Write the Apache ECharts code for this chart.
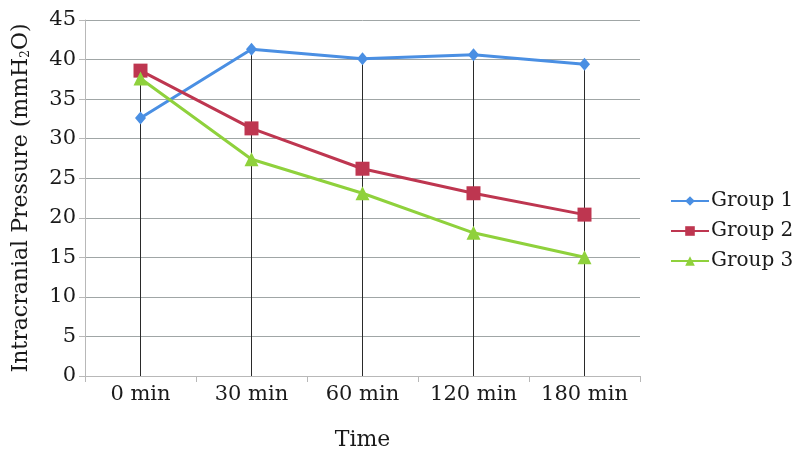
<!DOCTYPE html>
<html><head><meta charset="utf-8">
<script src="https://cdn.jsdelivr.net/npm/echarts@6/dist/echarts.min.js"></script>
<style>html,body{margin:0;padding:0;background:#fff}#c{width:799px;height:468px}</style>
</head><body><div id="c"></div>
<script>
const categories = ['0 min', '30 min', '60 min', '120 min', '180 min'];
const group1 = [32.6, 41.3, 40.1, 40.6, 39.4];
const group2 = [38.6, 31.3, 26.2, 23.1, 20.4];
const group3 = [37.6, 27.4, 23.1, 18.1, 15.0];
const seriesNames = ['Group 1', 'Group 2', 'Group 3'];
const yMin = 0, yMax = 45, yStep = 5;

const FONT = '"DejaVu Serif", "Liberation Serif", serif';
const TXT = '#1a1a1a';
const dropTop = categories.map((c, i) => Math.max(group1[i], group2[i], group3[i]));

const chart = echarts.init(document.getElementById('c'));
chart.setOption({
  animation: false,
  backgroundColor: '#fff',
  grid: { left: 85, right: 159, top: 20, bottom: 92 },
  legend: {
    orient: 'vertical', left: 665, top: 186, itemGap: 10, itemWidth: 38, itemHeight: 12,
    textStyle: { fontFamily: FONT, fontSize: 20, color: TXT, padding: [0, 0, 0, -3] },
    data: seriesNames
  },
  xAxis: {
    type: 'category', data: categories, boundaryGap: true,
    name: 'Time', nameLocation: 'middle', nameGap: 53,
    nameTextStyle: { fontFamily: FONT, fontSize: 22, color: TXT },
    axisLine: { lineStyle: { color: '#b8b8b8', width: 1 } },
    axisTick: { show: true, length: 6, interval: 0, lineStyle: { color: '#b8b8b8' } },
    axisLabel: { fontFamily: FONT, fontSize: 21, color: TXT, margin: 8, interval: 0 },
    splitLine: { show: false }
  },
  yAxis: {
    type: 'value', min: yMin, max: yMax, interval: yStep,
    name: 'Intracranial Pressure (mmH{sub|2}O)', nameLocation: 'middle', nameGap: 53,
    nameTextStyle: { fontFamily: FONT, fontSize: 22, color: TXT,
      rich: { sub: { fontFamily: FONT, fontSize: 12, color: TXT, verticalAlign: 'bottom', lineHeight: 16 } } },
    axisLine: { show: true, lineStyle: { color: '#b8b8b8', width: 1 } },
    axisTick: { show: true, length: 6, lineStyle: { color: '#b8b8b8' } },
    axisLabel: { fontFamily: FONT, fontSize: 21, color: TXT, margin: 9 },
    splitLine: { show: true, lineStyle: { color: '#a0a6a6', width: 1 } }
  },
  series: [
    {
      type: 'custom', name: 'drop', silent: true, z: 1,
      data: dropTop.map((v, i) => [i, v]),
      renderItem: function (params, api) {
        const top = api.coord([api.value(0), api.value(1)]);
        const bot = api.coord([api.value(0), 0]);
        return { type: 'line', shape: { x1: top[0], y1: top[1], x2: bot[0], y2: bot[1] },
          style: { stroke: '#2a2a2a', lineWidth: 1 } };
      }
    },
    { name: seriesNames[0], type: 'line', data: group1, symbol: 'diamond', symbolSize: [11, 13],
      itemStyle: { color: '#4a8fe3' }, lineStyle: { width: 3, color: '#4a8fe3' }, z: 3 },
    { name: seriesNames[1], type: 'line', data: group2, symbol: 'rect', symbolSize: 14,
      itemStyle: { color: '#be3650' }, lineStyle: { width: 3, color: '#be3650' }, z: 4 },
    { name: seriesNames[2], type: 'line', data: group3, symbol: 'triangle', symbolSize: 14,
      itemStyle: { color: '#8fd13c' }, lineStyle: { width: 3, color: '#8fd13c' }, z: 5 }
  ]
});
</script></body></html>
